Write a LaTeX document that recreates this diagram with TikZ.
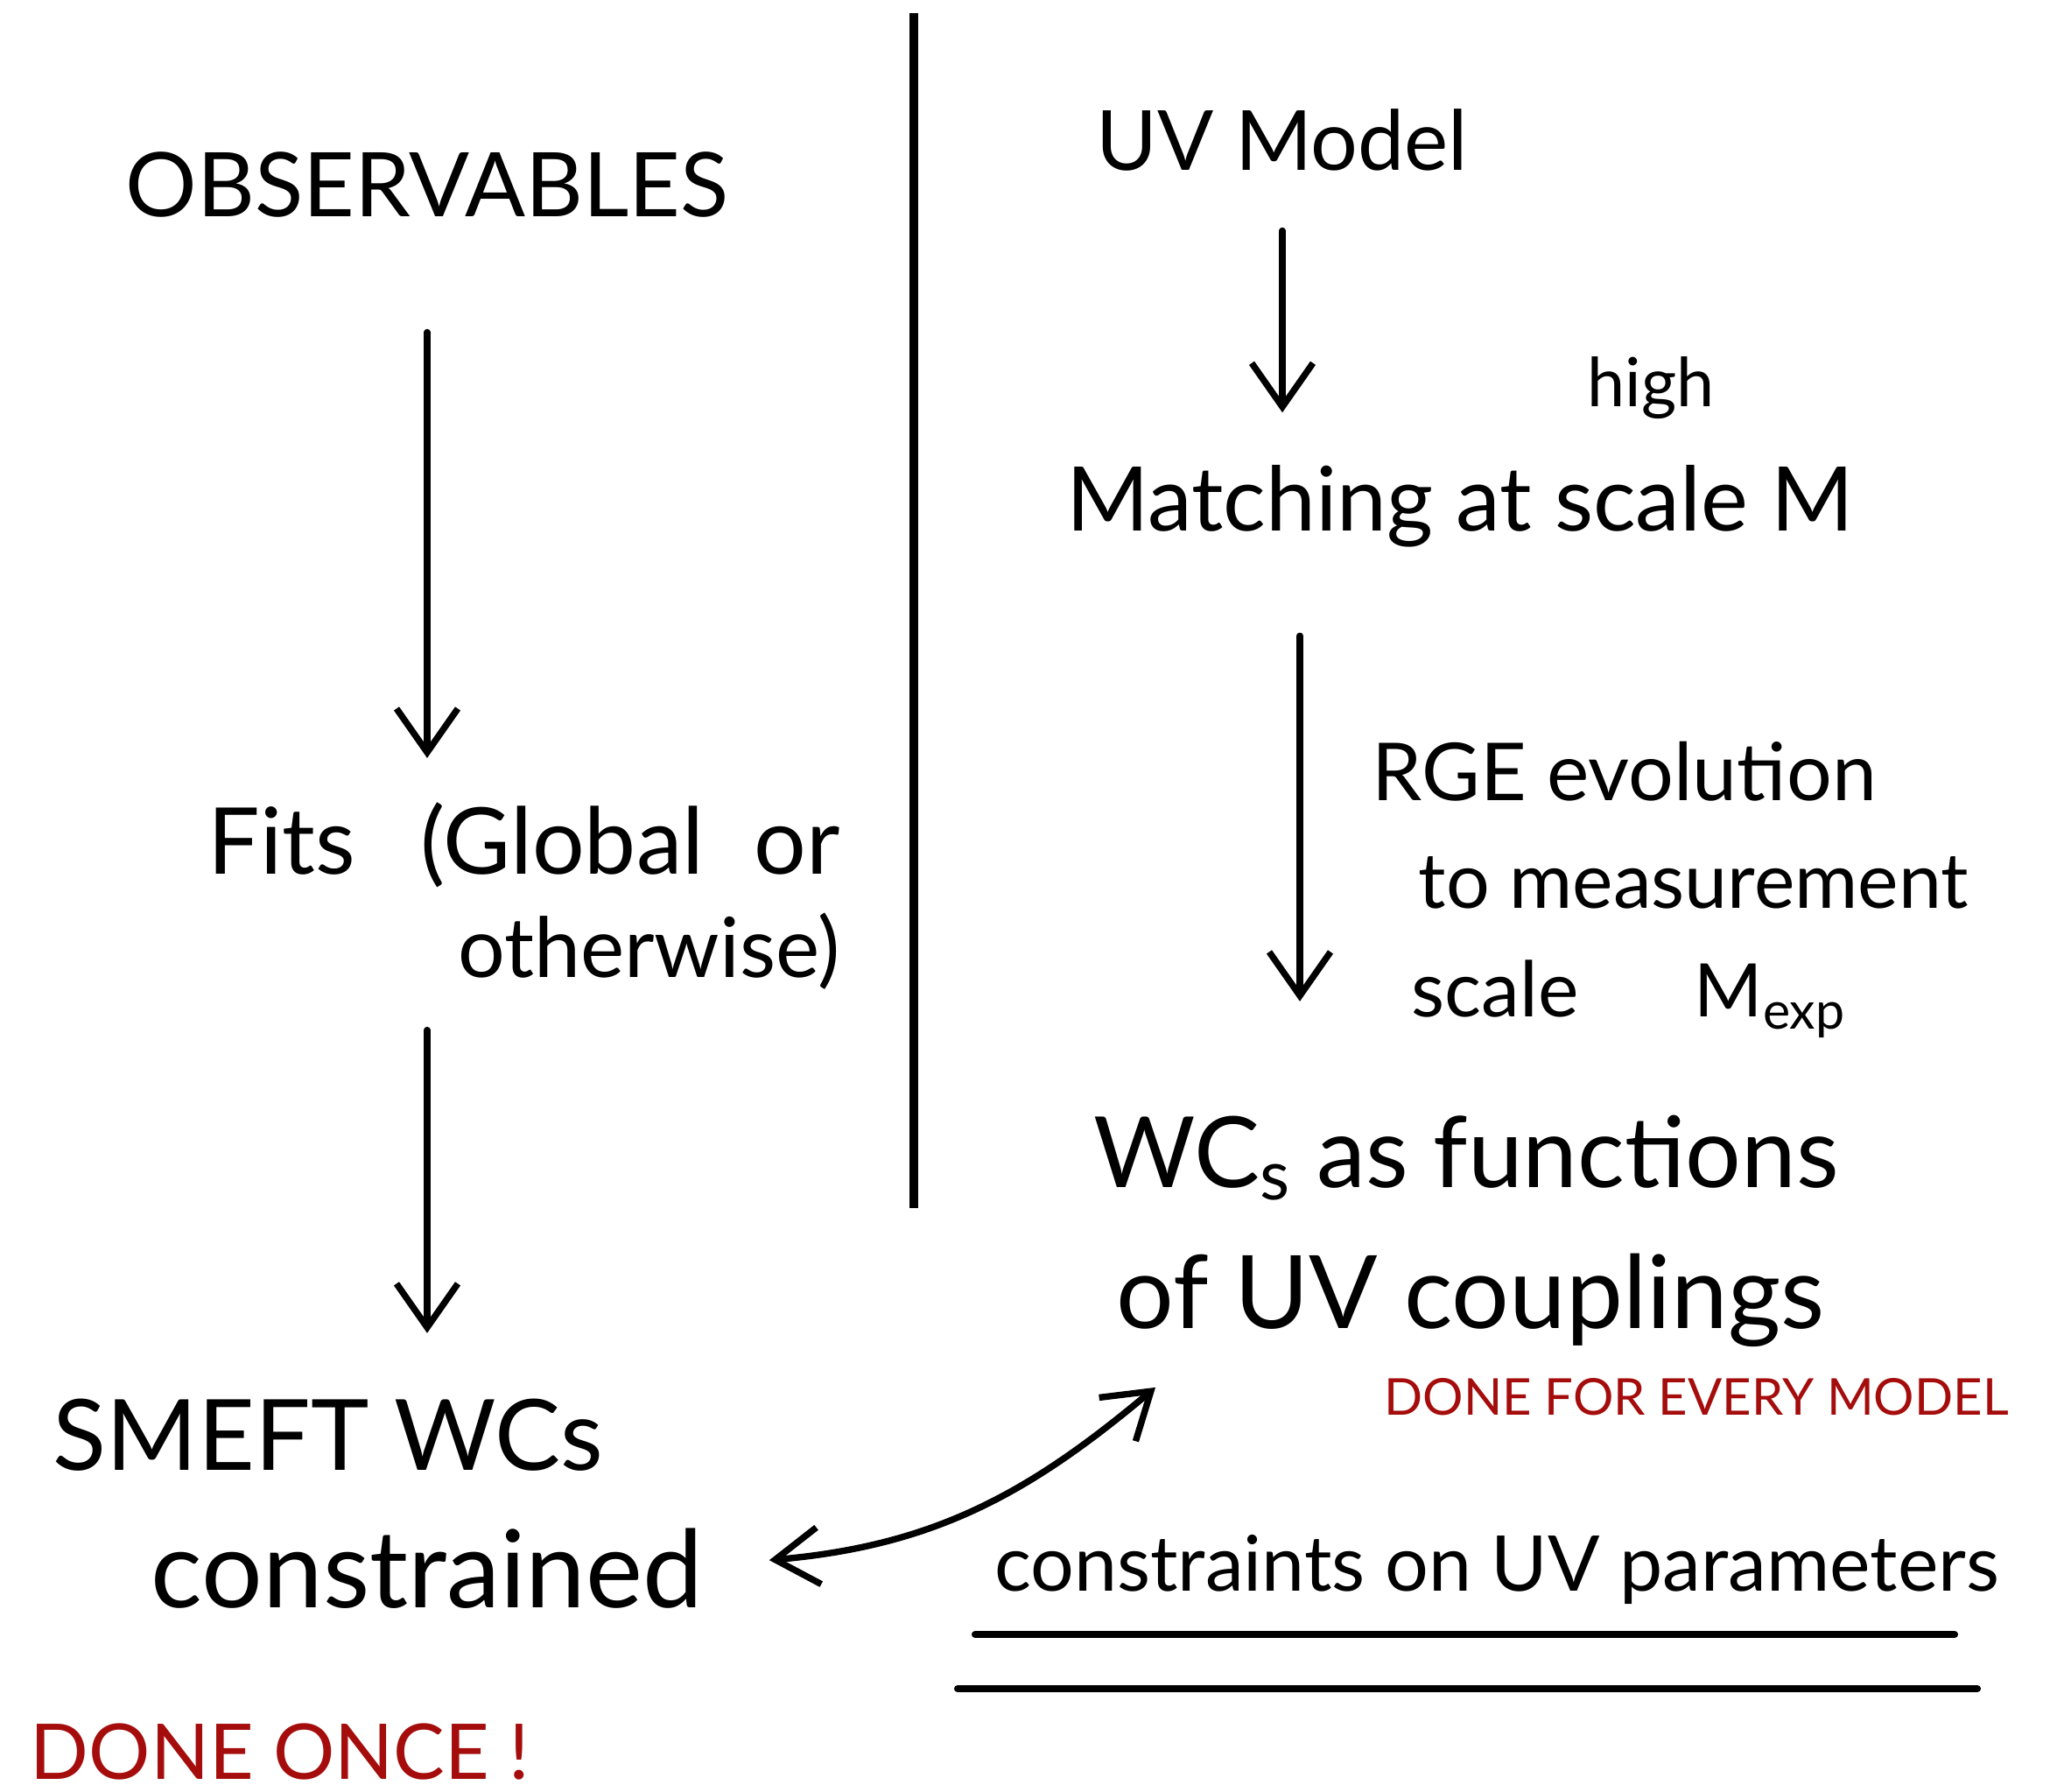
\documentclass[tikz,border=0pt]{standalone}
\usepackage{fontspec}
\setmainfont{Lato}
\usetikzlibrary{arrows.meta}
\definecolor{donered}{RGB}{165,12,12}
\tikzset{
  hand/.style={inner sep=0pt, anchor=base, text=black},
  redhand/.style={inner sep=0pt, anchor=base, text=donered},
  flow/.style={line width=2.1pt, line cap=round, -{Straight Barb[length=0.5cm, width=0.7cm, line width=2.1pt]}},
  twoway/.style={line width=2.1pt, line cap=round, {Straight Barb[length=0.5cm, width=0.65cm, line width=2.1pt]}-{Straight Barb[length=0.5cm, width=0.65cm, line width=2.1pt]}},
  rule/.style={line width=2.3pt, line cap=round}
}
\newcommand{\fsz}[1]{\fontsize{#1}{1.25\dimexpr#1pt\relax}\selectfont}
\begin{document}
\begin{tikzpicture}
\useasboundingbox (0,0) rectangle (23.5,20.47);

\draw[line width=2.6pt] (10.44,20.32) -- (10.44,6.67);

\draw (4.88,17.99) node[hand, font=\fsz{29}] (obs) {OBSERVABLES};
\draw (9.6,9.3) node[hand, anchor=base east, font=\fsz{27}, align=right] (fits) {{\fsz{30}Fits\hspace{0.75cm}(Global\hspace{0.3cm} or}\\otherwise)};
\draw (3.75,3.67) node[hand, font=\fsz{32}] (smeft) {SMEFT WCs};
\draw (4.88,2.1) node[hand, font=\fsz{35}] (constrained) {constrained};
\draw (3.2,0.14) node[redhand, font=\fsz{25}] (once) {DONE ONCE !};

\draw (14.65,18.52) node[hand, font=\fsz{27}] (uv) {UV Model};
\draw (18.86,15.82) node[hand, font=\fsz{22}] (high) {high};
\draw (16.68,14.4) node[hand, font=\fsz{29}] (match) {Matching at scale M};
\draw (15.67,11.32) node[hand, anchor=base west, font=\fsz{26}] (rge) {RGE evolution};
\draw (16.2,10.09) node[hand, anchor=base west, font=\fsz{25}] (meas) {to measurement};
\draw (16.12,8.85) node[hand, anchor=base west, font=\fsz{25}] (scale) {scale};
\draw (19.35,8.85) node[hand, anchor=base west, font=\fsz{24}] (mexp) {M\textsubscript{exp}};
\draw (16.75,6.9) node[hand, font=\fsz{32}] (wcs) {WC\textsubscript{s} as functions};
\draw (16.8,5.29) node[hand, font=\fsz{33}] (couplings) {of UV couplings};
\draw (19.38,4.3) node[redhand, font=\fsz{16.5}] (every) {DONE FOR EVERY MODEL};
\draw (17.1,2.29) node[hand, font=\fsz{25}] (cons) {constraints on UV parameters};

\draw[flow] ([yshift=-1.3cm]obs.south) -- ([yshift=0.5cm]obs.south |- fits.north);
\draw[flow] ([yshift=-0.45cm]obs.south |- fits.south) -- ([yshift=0.75cm]obs.south |- smeft.north);
\draw[flow] ([yshift=-0.67cm]uv.south) -- ([yshift=0.6cm]uv.south |- match.north);
\draw[flow] ([xshift=0.2cm,yshift=-1.0cm]uv.south |- match.south) -- ([xshift=0.2cm,yshift=1.3cm]uv.south |- wcs.north);
\draw[twoway] ([xshift=0.75cm,yshift=0.1cm]constrained.east) to[out=5, in=-140] ([xshift=0.45cm,yshift=-0.45cm]couplings.south west);

\draw[rule] (11.14,1.80) -- (22.33,1.80);
\draw[rule] (10.94,1.18) -- (22.59,1.18);
\end{tikzpicture}
\end{document}
